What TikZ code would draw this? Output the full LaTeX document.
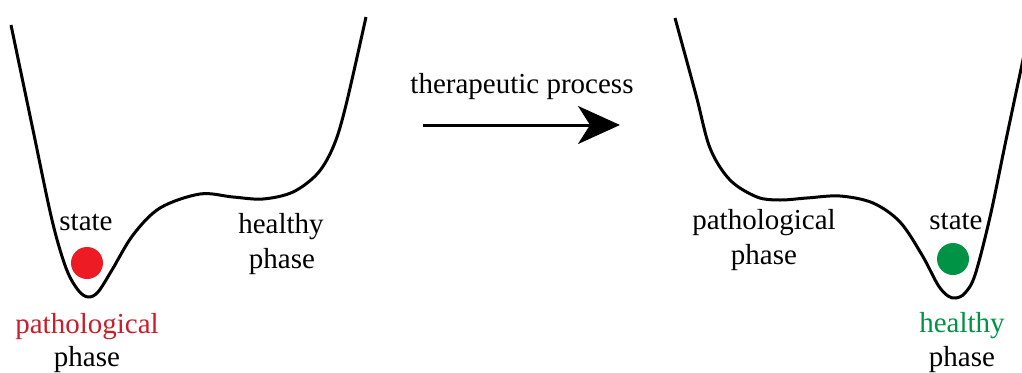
\documentclass[tikz,border=0pt]{standalone}
\usepackage{fontspec}
\setmainfont{Liberation Serif}
\usetikzlibrary{arrows.meta}
\definecolor{dotred}{RGB}{237,28,36}
\definecolor{txtred}{RGB}{200,30,40}
\definecolor{dotgreen}{RGB}{0,146,69}
\begin{document}
\begin{tikzpicture}[x=1pt,y=-1pt,
  curve/.style={line width=3pt,line join=round},
  lbl/.style={anchor=base,inner sep=0pt,font=\fontsize{29}{34}\selectfont},
  ball/.style={circle,minimum size=32pt,inner sep=0pt}]
\useasboundingbox (0,0) rectangle (1022,372);
% left potential
\draw[curve] plot[smooth,tension=0.55] coordinates {(11,25) (33,130) (52,220) (66,268) (78,290) (88,297) (98,292) (112,270) (133,235) (160,208) (200,194) (233,197) (263,199) (293,192) (318,173) (334,145) (346,105) (366,17)};
% right potential
\draw[curve] plot[smooth,tension=0.55] coordinates {(675,18) (696,95) (710,148) (730,180) (757,197) (780,200) (807,198) (840,196) (873,203) (900,222) (922,255) (938,285) (948,296) (956,298) (965,293) (975,275) (990,217) (1006,140) (1024,55)};
% balls
\node[ball,fill=dotred] (redball) at (87,263) {};
\node[ball,fill=dotgreen] (greenball) at (953,259) {};
% left labels
\node[lbl] (lstate) at (86,230) {state};
\node[lbl] (lhealthy) at (281,233) {healthy};
\node[lbl] (lhphase) at (282,268) {phase};
\node[lbl,text=txtred] (lpath) at (87,333) {pathological};
\node[lbl] (lpphase) at (87,366) {phase};
% right labels
\node[lbl] (rpath) at (764,229) {pathological};
\node[lbl] (rpphase) at (764,264) {phase};
\node[lbl] (rstate) at (956,229) {state};
\node[lbl,text=dotgreen] (rhealthy) at (962,332) {healthy};
\node[lbl] (rhphase) at (962,366) {phase};
% arrow
\coordinate (as) at (423,125);
\coordinate (ae) at (620,125);
\draw[line width=3pt,-{Stealth[length=42pt,width=38pt,inset=12pt]}] (as) -- (ae);
\node[lbl] (tp) at (522,93) {therapeutic process};
\end{tikzpicture}
\end{document}
